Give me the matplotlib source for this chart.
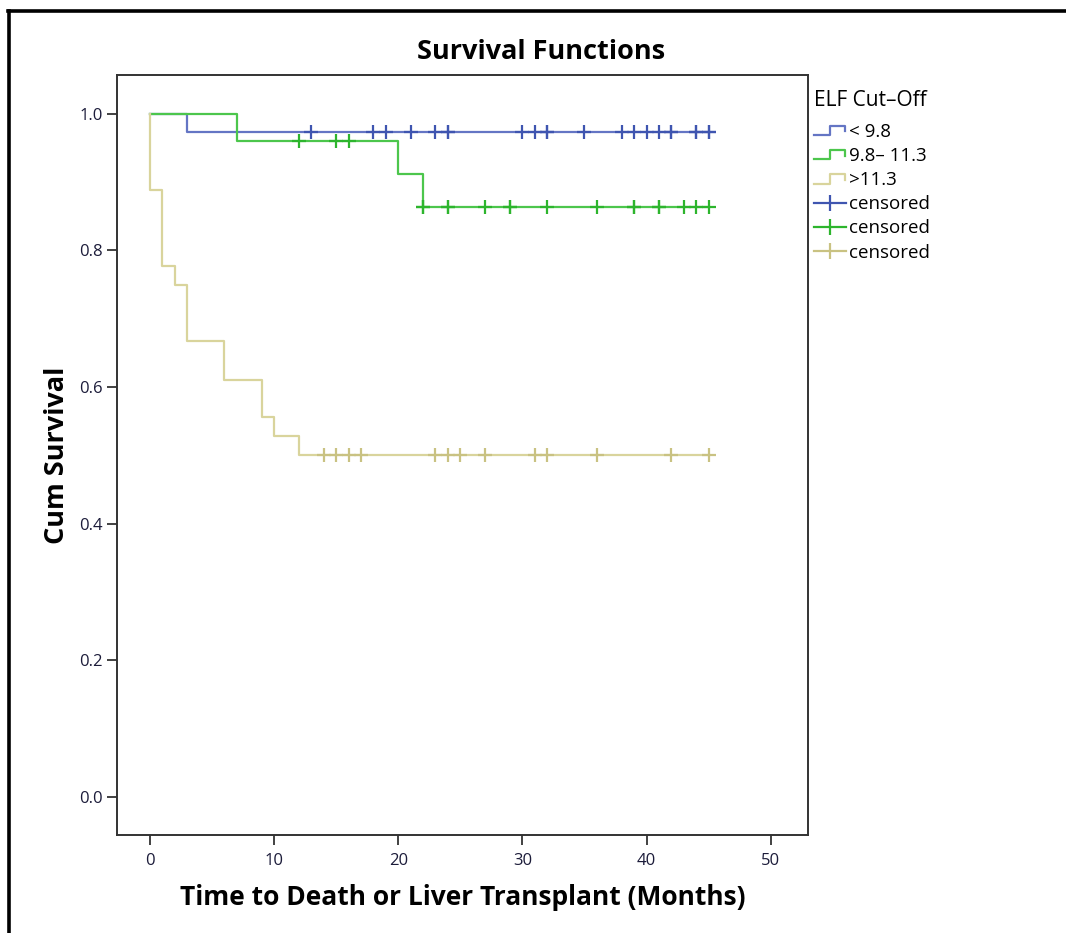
import numpy as np
import matplotlib
matplotlib.use("Agg")
import matplotlib.pyplot as plt
from matplotlib.lines import Line2D
from matplotlib.legend_handler import HandlerBase

# Kaplan-Meier estimates by ELF cut-off group
group_labels = ["< 9.8", "9.8\u2013 11.3", ">11.3"]

low_times = [3]
low_surv = [0.974]
low_censored = [13, 18, 19, 21, 23, 24, 24, 30, 31, 32, 32, 35, 38, 39, 40,
                41, 42, 42, 44, 44, 45, 45]

mid_times = [7, 20, 22]
mid_surv = [0.96, 0.912, 0.864]
mid_censored = [12, 15, 16, 22, 22, 24, 24, 27, 29, 29, 32, 36, 39, 39, 41,
                41, 43, 44, 45]

high_times = [0, 1, 2, 3, 6, 9, 10, 12]
high_surv = [0.889, 0.778, 0.75, 0.667, 0.611, 0.556, 0.528, 0.5]
high_censored = [14, 15, 16, 17, 23, 24, 25, 27, 31, 32, 36, 42, 45]

x_ticks = [0, 10, 20, 30, 40, 50]
y_ticks = [0.0, 0.2, 0.4, 0.6, 0.8, 1.0]

line_colors = ["#6475c4", "#4cc64c", "#d9d49c"]
mark_colors = ["#3f55b0", "#2db52d", "#c9c282"]

FONT = ["Open Sans", "DejaVu Sans"]
plt.rcParams["font.family"] = FONT

fig = plt.figure(figsize=(10.66, 9.33), dpi=100)
W, H = 1066, 933
ax = fig.add_axes([117 / W, 1 - 835 / H, (808 - 117) / W, (835 - 75) / H])

series = [
    (low_times, low_surv, low_censored),
    (mid_times, mid_surv, mid_censored),
    (high_times, high_surv, high_censored),
]

for (times, surv, cens), lc, mc in zip(series, line_colors, mark_colors):
    end = max(cens)
    xs = [0] + list(times) + [end]
    ys = [1.0] + list(surv) + [surv[-1]]
    ax.step(xs, ys, where="post", color=lc, lw=1.6, zorder=2)
    t_arr = np.asarray(times, dtype=float)
    c_arr = np.asarray(cens, dtype=float)
    idx = np.searchsorted(t_arr, c_arr, side="right") - 1
    cy = np.where(idx >= 0, np.asarray(surv)[np.clip(idx, 0, None)], 1.0)
    ax.plot(c_arr, cy, ls="none", marker="+", ms=10, mew=1.6, color=mc,
            zorder=3)

ax.set_xlim(-2.65, 53.0)
ax.set_ylim(-0.056, 1.057)
ax.set_xticks(x_ticks)
ax.set_yticks(y_ticks)
ax.set_xticklabels([str(v) for v in x_ticks])
ax.set_yticklabels([f"{v:.1f}" for v in y_ticks])
ax.tick_params(axis="both", direction="out", length=7, width=1.3,
               color="#333333", labelsize=12, labelcolor="#1c1c3a")
ax.tick_params(axis="x", pad=6)
for sp in ax.spines.values():
    sp.set_linewidth(1.4)
    sp.set_color("#333333")

ax.set_xlabel("Time to Death or Liver Transplant (Months)", fontsize=19,
              fontweight="bold", labelpad=11)
ax.set_ylabel("Cum Survival", fontsize=19.5, fontweight="bold", labelpad=6)
fig.text(541 / W, 1 - 52 / H, "Survival Functions", fontsize=19.5,
         fontweight="bold", ha="center", va="center")


class StepHandler(HandlerBase):
    def create_artists(self, legend, orig_handle, xdescent, ydescent,
                       width, height, fontsize, trans):
        x0 = -xdescent
        y0 = -ydescent
        lo = y0 + 0.1 * height
        hi = y0 + 0.8 * height
        xs = [x0, x0 + 0.5 * width, x0 + 0.5 * width, x0 + 0.95 * width,
              x0 + 0.95 * width]
        ys = [lo, lo, hi, hi, y0 + 0.4 * height]
        ln = Line2D(xs, ys, color=orig_handle.get_color(), lw=1.6)
        ln.set_transform(trans)
        return [ln]


step_handles = [Line2D([], [], color=c) for c in line_colors]
cens_handles = [Line2D([], [], color=c, lw=1.6, marker="|", ms=11, mew=1.6)
                for c in mark_colors]
handles = step_handles + cens_handles
labels = group_labels + ["censored"] * 3
hmap = {h: StepHandler() for h in step_handles}
leg = ax.legend(handles, labels, handler_map=hmap, loc="upper left",
                bbox_to_anchor=(806 / W, 1 - 83 / H),
                bbox_transform=fig.transFigure, frameon=False,
                title="ELF Cut\u2013Off", fontsize=13.5, title_fontsize=15,
                handlelength=1.75, handletextpad=0.15, labelspacing=0.33,
                borderaxespad=0, alignment="left")
leg._legend_box.sep = 8

# page frame along the top and left edges
fig.add_artist(Line2D([8 / W, 1.0], [1 - 11 / H, 1 - 11 / H], color="black",
                      lw=2.6, transform=fig.transFigure))
fig.add_artist(Line2D([9 / W, 9 / W], [0, 1 - 11 / H], color="black",
                      lw=2.6, transform=fig.transFigure))

fig.savefig("out.png", dpi=100)
